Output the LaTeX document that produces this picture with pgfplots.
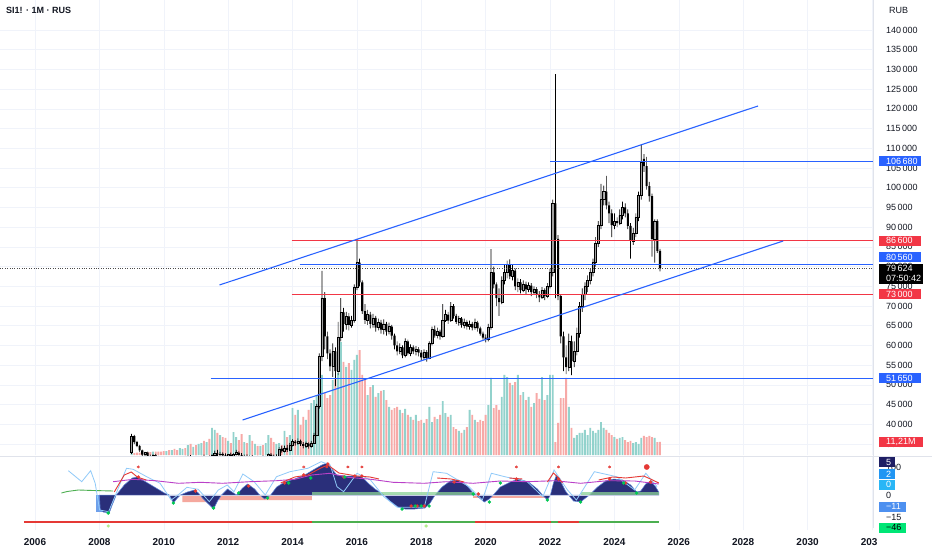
\documentclass[border=0pt]{standalone}
\usepackage{fontspec}
\setmainfont{Liberation Sans}
\usepackage{pgfplots}
\usepackage{pgfplotstable}
\pgfplotsset{compat=1.18}
\definecolor{tvblue}{RGB}{41,98,255}
\definecolor{tvred}{RGB}{242,54,69}
\definecolor{volup}{RGB}{146,210,204}
\definecolor{voldn}{RGB}{247,169,167}
\definecolor{candleup}{RGB}{160,160,160}
\definecolor{gridc}{RGB}{240,243,250}
\definecolor{sepc}{RGB}{224,227,235}
\definecolor{txt}{RGB}{19,23,34}
\definecolor{navyosc}{RGB}{42,47,122}
\definecolor{oscedge}{RGB}{90,130,215}
\definecolor{lightosc}{RGB}{144,202,249}
\definecolor{steelosc}{RGB}{110,160,235}
\definecolor{purp}{RGB}{186,64,200}
\definecolor{oscred}{RGB}{229,57,53}
\definecolor{oscgreen}{RGB}{76,175,80}
\definecolor{salmon}{RGB}{245,168,158}
\definecolor{bandgreen}{RGB}{140,210,150}
\definecolor{dotgreen}{RGB}{0,200,83}
\definecolor{lgreen}{RGB}{178,235,140}
\definecolor{zerol}{RGB}{200,205,230}
\definecolor{box5}{RGB}{30,30,100}
\definecolor{box2}{RGB}{33,150,243}
\definecolor{box0}{RGB}{41,182,246}
\definecolor{box11}{RGB}{77,144,240}
\definecolor{box46}{RGB}{0,230,118}

\pgfplotstableread{
yr mo o h l c v
2009 1 33000 37600 32500 37000 1.7
2009 2 37000 37300 35000 35500 1.7
2009 3 35500 35800 34200 34500 2
2009 4 34500 34800 33000 33400 2
2009 5 33400 33600 31800 32300 2
2009 6 32300 33000 31900 32800 2.5
2009 7 32800 33100 31500 31800 2.5
2009 8 31800 32300 31000 31600 2.5
2009 9 31600 32400 31200 32100 3
2009 10 32100 32500 31300 31500 3
2009 11 31500 32000 30800 31200 3
2009 12 31200 31800 30600 31000 3
2010 1 31000 31500 30500 30800 3.4
2010 2 30800 31400 30300 31200 3.4
2010 3 31200 31600 30700 30900 4.3
2010 4 30900 31500 30600 31300 4.3
2010 5 31300 31800 30800 31000 5.2
2010 6 31000 31400 30400 30700 4.3
2010 7 30700 31300 30300 31100 6
2010 8 31100 31700 30800 31500 5.2
2010 9 31500 32000 31100 31400 6
2010 10 31400 32100 31000 31900 8.6
2010 11 31900 32200 31200 31300 9.5
2010 12 31300 31800 30900 31600 6.9
2011 1 31600 32000 31000 31200 8.6
2011 2 31200 31700 30800 31500 9.5
2011 3 31500 32000 31100 31800 10.3
2011 4 31800 32300 31300 31400 12.1
2011 5 31400 31900 30900 31700 11.2
2011 6 31700 32100 31200 31500 13.8
2011 7 31500 32400 31300 32200 23.3
2011 8 32200 33300 31900 32600 21.6
2011 9 32600 33500 32000 32300 19
2011 10 32300 33000 31800 32500 17.2
2011 11 32500 32900 31900 32100 15.5
2011 12 32100 32600 31600 31900 14.7
2012 1 31900 32500 31500 32300 12.1
2012 2 32300 32800 31800 32000 10.3
2012 3 32000 32600 31700 32400 19.8
2012 4 32400 33500 32100 32800 15.5
2012 5 32800 33200 32000 32200 12.9
2012 6 32200 32700 31600 31800 18.1
2012 7 31800 32300 31300 32000 11.2
2012 8 32000 32400 31400 31600 10.3
2012 9 31600 32100 31000 31800 17.2
2012 10 31800 32200 31200 31400 12.1
2012 11 31400 31900 30900 31600 9.5
2012 12 31600 32000 31100 31300 7.8
2013 1 31300 31900 30900 31700 7.8
2013 2 31700 32100 31200 31500 8.6
2013 3 31500 32000 31000 31800 10.3
2013 4 31800 32600 31400 32300 17.2
2013 5 32300 32700 31800 32000 14.7
2013 6 32000 32300 31300 31500 11.2
2013 7 31500 32400 31200 32000 9.5
2013 8 32000 34200 31800 33800 10.3
2013 9 33800 34500 32800 33200 8.6
2013 10 33200 34600 32900 34000 20.7
2013 11 34000 34800 33000 33500 15.5
2013 12 33500 35300 33200 34800 17.2
2014 1 34800 36200 34400 35600 40.5
2014 2 35600 36000 34600 35200 34.5
2014 3 35200 36400 34800 35800 38.8
2014 4 35800 36100 34500 35000 25.9
2014 5 35000 35500 33900 34500 32.8
2014 6 34500 35600 34000 35100 30.2
2014 7 35100 35400 33800 34400 38.8
2014 8 34400 35800 34100 35300 44.8
2014 9 35300 37800 35100 37300 47.4
2014 10 37300 45200 37000 44700 51.7
2014 11 44700 58000 44000 57300 77.6
2014 12 57300 78900 56000 72000 69
2015 1 72000 73500 59000 62300 53.4
2015 2 62300 63500 56500 58000 49.1
2015 3 58000 59000 53500 54700 51.7
2015 4 54700 60500 52000 58500 64.7
2015 5 58500 59500 49700 53500 66.4
2015 6 53500 66000 52500 62000 70.7
2015 7 62000 72000 61000 68400 97.4
2015 8 68400 69500 63500 65500 80.2
2015 9 65500 68500 64000 67400 75.9
2015 10 67400 68200 63800 65200 79.3
2015 11 65200 67500 64500 66500 73.3
2015 12 66500 75500 65800 74800 81.9
2016 1 74800 87000 74000 81000 86.2
2016 2 81000 82000 75000 76000 90.5
2016 3 76000 76500 68000 68700 69
2016 4 68700 70500 65500 66500 64.7
2016 5 66500 69000 65200 67800 51.7
2016 6 67800 68500 64300 65500 58.6
2016 7 65500 68000 64500 67000 60.3
2016 8 67000 67500 63500 64500 50
2016 9 64500 66800 63800 65800 53.4
2016 10 65800 66500 63000 64000 55.2
2016 11 64000 66600 62800 65500 56
2016 12 65500 66000 62500 63500 47.4
2017 1 63500 65800 62800 64800 41.4
2017 2 64800 65200 61500 62500 38.8
2017 3 62500 63000 59000 60000 40.5
2017 4 60000 61000 57500 58500 41.4
2017 5 58500 60500 57800 59500 38.8
2017 6 59500 60000 56800 57500 36.2
2017 7 57500 61800 57000 61000 39.7
2017 8 61000 61500 57500 58000 34.5
2017 9 58000 60300 57300 59500 32.8
2017 10 59500 60000 57800 58500 30.2
2017 11 58500 59800 57500 59000 34.5
2017 12 59000 59600 57200 58200 29.3
2018 1 58200 58800 56000 57000 30.2
2018 2 57000 59000 56300 58300 27.6
2018 3 58300 58800 55900 56800 31
2018 4 56800 61000 56500 60500 41.4
2018 5 60500 64800 60000 64000 28.4
2018 6 64000 65000 62000 62500 32.8
2018 7 62500 64500 61800 63500 31
2018 8 63500 64000 61500 62300 34.5
2018 9 62300 70500 62000 66500 46.5
2018 10 66500 69000 66000 67800 36.2
2018 11 67800 68500 65500 66300 32.8
2018 12 66300 71000 66000 70000 34.5
2019 1 70000 70500 66800 67500 24.1
2019 2 67500 68000 65500 66000 22.4
2019 3 66000 67500 65000 66800 20.7
2019 4 66800 67200 64500 65200 19
2019 5 65200 66800 64300 66000 21.6
2019 6 66000 66500 64000 64800 24.1
2019 7 64800 66300 64000 65500 38.8
2019 8 65500 66000 63800 64500 34.5
2019 9 64500 66800 64000 65800 30.2
2019 10 65800 66200 63500 64300 28.4
2019 11 64300 64800 62500 63000 30.2
2019 12 63000 63500 61500 62000 29.3
2020 1 62000 62800 60800 61500 34.5
2020 2 61500 65500 61000 64500 43.1
2020 3 64500 84400 64000 78500 66.4
2020 4 78500 80000 74500 75500 40.5
2020 5 75500 76000 70000 72000 43.1
2020 6 72000 74500 67500 71000 38.8
2020 7 71000 77500 70500 76500 50
2020 8 76500 80500 75500 78500 69
2020 9 78500 81500 77000 80500 67.2
2020 10 80500 81800 76800 77500 62.1
2020 11 77500 80500 76500 79000 60.3
2020 12 79000 79500 74000 75000 62.9
2021 1 75000 77000 73500 76000 69
2021 2 76000 76800 73200 74000 51.7
2021 3 74000 76500 73500 75500 54.3
2021 4 75500 76200 73000 74200 47.4
2021 5 74200 76000 73500 75200 50
2021 6 75200 75800 72500 73500 41.4
2021 7 73500 75000 72800 74300 44.8
2021 8 74300 74800 72000 73000 53.4
2021 9 73000 73800 71000 72200 48.3
2021 10 72200 74800 71800 74000 67.2
2021 11 74000 74500 71500 72500 47.4
2021 12 72500 75800 72000 75000 51.7
2022 1 75000 79500 74500 78500 69
2022 2 78500 97000 77500 96000 69
2022 3 96000 128800 72000 87000 11.2
2022 4 87000 88000 71500 72500 27.6
2022 5 72500 73000 60500 62300 49.1
2022 6 62300 63500 53500 57000 49.1
2022 7 57000 60000 52700 54500 66.4
2022 8 54500 63000 53500 61000 41.4
2022 9 61000 62500 52500 56000 23.3
2022 10 56000 61000 54500 58500 14.7
2022 11 58500 64500 57500 63000 17.2
2022 12 63000 71000 62000 70000 19
2023 1 70000 74500 68500 73000 19
2023 2 73000 76000 71500 75000 21.6
2023 3 75000 77800 73500 76500 17.2
2023 4 76500 79500 75500 78500 23.3
2023 5 78500 82000 77500 81000 20.7
2023 6 81000 87500 80000 86000 19
2023 7 86000 91500 85000 90500 21.6
2023 8 90500 101000 89500 97000 28.4
2023 9 97000 100500 95500 99000 23.3
2023 10 99000 103000 94500 95500 21.6
2023 11 95500 96500 91000 93500 19
2023 12 93500 94500 87500 90500 17.2
2024 1 90500 93500 89500 91500 15.5
2024 2 91500 92500 90000 91000 13.8
2024 3 91000 94500 90500 93000 14.7
2024 4 93000 96500 92000 95000 15.5
2024 5 95000 96000 92500 93500 12.9
2024 6 93500 94500 89500 90300 11.2
2024 7 90300 91000 82000 86500 12.1
2024 8 86500 89800 85500 88500 10.3
2024 9 88500 93500 87500 92500 11.2
2024 10 92500 99000 91500 98000 9.5
2024 11 98000 111000 97000 106500 14.7
2024 12 107300 108500 104000 105500 16.4
2025 1 105500 107800 99500 100400 15.5
2025 2 100400 101500 96500 97900 16.4
2025 3 97900 98500 82500 87000 15.5
2025 4 87000 92000 81000 91500 14.7
2025 5 91500 92000 83500 84000 11.2
2025 6 84000 84500 78800 79624 11.21
}\candles

\newcommand{\lblfont}{\fontsize{9}{10}\selectfont}
\pgfplotsset{pane/.style={anchor=south west, width=873pt, scale only axis,
  xmin=2004.9127, xmax=2032.033}}

\begin{document}
\begin{tikzpicture}
\fill[white] (0pt,0pt) rectangle (932pt,550pt);

\begin{axis}[pane, at={(0pt,95pt)}, height=455pt, ymin=32214, ymax=147608,
  axis line style={draw=none}, major tick length=0pt,
  xtick={2006,2008,...,2032}, xticklabels={},
  ytick={35000,40000,...,140000}, yticklabel pos=right, scaled y ticks=false,
  yticklabel style={font=\lblfont, text=txt, anchor=west, inner sep=0pt, xshift=13pt},
  grid=major, major grid style={gridc, line width=0.5pt},
  /pgf/number format/.cd, fixed, precision=0, 1000 sep={\,}, assume math mode=true]
\addplot[draw=none] coordinates {(2010,50000)};
\end{axis}

\begin{axis}[pane, at={(0pt,95pt)}, height=455pt, ymin=0, ymax=392.2, hide axis]
\addplot[ybar, bar width=1.9pt, bar shift=0pt, fill=volup, draw=none]
  table[x expr={\thisrow{yr}+(\thisrow{mo}-1)/12}, y expr={\thisrow{c}>=\thisrow{o} ? \thisrow{v} : nan}] {\candles};
\addplot[ybar, bar width=1.9pt, bar shift=0pt, fill=voldn, draw=none]
  table[x expr={\thisrow{yr}+(\thisrow{mo}-1)/12}, y expr={\thisrow{c}<\thisrow{o} ? \thisrow{v} : nan}] {\candles};
\coordinate (VOL) at (axis cs:2032.033,11.21);
\end{axis}

\begin{axis}[pane, at={(0pt,95pt)}, height=455pt, ymin=32214, ymax=147608, hide axis,
  ybar stacked, bar width=0.7pt]
\addplot[draw=none, fill=none] table[x expr={\thisrow{yr}+(\thisrow{mo}-1)/12}, y=l] {\candles};
\addplot[draw=none, fill=black] table[x expr={\thisrow{yr}+(\thisrow{mo}-1)/12}, y expr={\thisrow{h}-\thisrow{l}}] {\candles};
\end{axis}

\begin{axis}[pane, at={(0pt,95pt)}, height=455pt, ymin=32214, ymax=147608, hide axis,
  ybar stacked, bar width=2.1pt]
\addplot[draw=none, fill=none] table[x expr={\thisrow{yr}+(\thisrow{mo}-1)/12}, y expr={min(\thisrow{o},\thisrow{c})}] {\candles};
\addplot[draw=none, fill=black] table[x expr={\thisrow{yr}+(\thisrow{mo}-1)/12}, y expr={\thisrow{c}<\thisrow{o} ? \thisrow{o}-\thisrow{c} : 0}] {\candles};
\addplot[draw=black, line width=0.4pt, fill=candleup] table[x expr={\thisrow{yr}+(\thisrow{mo}-1)/12}, y expr={\thisrow{c}>=\thisrow{o} ? \thisrow{c}-\thisrow{o} : 0}] {\candles};
\end{axis}

\begin{axis}[pane, at={(0pt,95pt)}, height=455pt, ymin=32214, ymax=147608, hide axis]
\addplot[black!70, line width=0.6pt, dash pattern=on 0.8pt off 1.6pt] coordinates {(2004.9127,79624) (2032.033,79624)};
\addplot[tvblue, line width=1.1pt] coordinates {(2022.012,106680) (2032.033,106680)};
\addplot[tvred, line width=1.1pt] coordinates {(2013.975,86600) (2032.033,86600)};
\addplot[tvblue, line width=1.1pt] coordinates {(2014.224,80560) (2032.033,80560)};
\addplot[tvred, line width=1.1pt] coordinates {(2013.975,73000) (2032.033,73000)};
\addplot[tvblue, line width=1.1pt] coordinates {(2011.452,51650) (2032.033,51650)};
\addplot[tvblue, line width=1.1pt] coordinates {(2011.732,75332) (2028.461,120726)};
\addplot[tvblue, line width=1.1pt] coordinates {(2012.449,41096) (2029.240,86490)};
\coordinate (P106680) at (axis cs:2032.033,106680);
\coordinate (P86600) at (axis cs:2032.033,86600);
\coordinate (P80560) at (axis cs:2032.033,80560);
\coordinate (P79624) at (axis cs:2032.033,79624);
\coordinate (P73000) at (axis cs:2032.033,73000);
\coordinate (P51650) at (axis cs:2032.033,51650);
\end{axis}

\begin{axis}[pane, at={(0pt,20pt)}, height=74pt, ymin=-35, ymax=39,
  axis line style={draw=none}, major tick length=0pt,
  xtick={2006,2008,...,2032},
  xticklabels={2006,2008,2010,2012,2014,2016,2018,2020,2022,2024,2026,2028,2030,203\phantom{2}},
  xticklabel style={font=\bfseries\fontsize{10}{11}\selectfont, text=txt, anchor=base, yshift=-15pt},
  ytick=\empty, xmajorgrids, major grid style={gridc, line width=0.5pt}]
\addplot[fill=salmon, draw=none] coordinates {(2010.580,0) (2010.580,-7) (2011.577,-7) (2011.60,-5) (2014.599,-5) (2014.599,0)} -- cycle;
\addplot[fill=salmon, draw=none] coordinates {(2019.614,0) (2019.614,-2.5) (2021.982,-2.5) (2021.982,0)} -- cycle;
\addplot[fill=steelosc, draw=none] coordinates {(2007.90,0) (2007.90,-17) (2008.119,-17) (2008.119,0)} -- cycle;
\addplot[fill=navyosc, draw=oscedge, line width=0.5pt] coordinates {
(2008.00,0) (2008.03,-15) (2008.119,-17) (2008.306,-18) (2008.399,-10) (2008.524,0) (2008.773,10) (2009.022,17) (2009.178,18) (2009.396,14) (2009.708,8) (2010.019,2) (2010.175,0) (2010.300,-8) (2010.424,-3) (2010.518,0) (2010.736,3) (2010.954,5) (2011.078,2) (2011.203,-3) (2011.421,-10) (2011.546,-14) (2011.670,-6) (2011.795,0) (2011.982,6) (2012.169,2) (2012.262,0) (2012.449,7) (2012.605,11) (2012.823,6) (2012.979,0) (2013.134,-4) (2013.321,0) (2013.508,8) (2013.757,13) (2014.069,16) (2014.380,20) (2014.692,26) (2014.910,30) (2015.066,32) (2015.222,26) (2015.377,20) (2015.627,19) (2015.938,19) (2016.156,18) (2016.343,12) (2016.561,6) (2016.842,0) (2017.029,-6) (2017.278,-12) (2017.496,-14) (2017.807,-14) (2018.119,-13) (2018.275,-8) (2018.430,0) (2018.648,8) (2018.898,14) (2019.147,15) (2019.396,10) (2019.614,2) (2019.770,-2) (2019.957,-7) (2020.113,-4) (2020.237,0) (2020.455,8) (2020.767,13) (2021.016,16) (2021.328,13) (2021.608,6) (2021.764,0) (2021.919,-5) (2022.013,0) (2022.106,12) (2022.200,20) (2022.324,14) (2022.480,4) (2022.574,0) (2022.729,-6) (2022.948,-7) (2023.103,-3) (2023.228,0) (2023.477,8) (2023.726,14) (2023.976,16) (2024.256,15) (2024.505,10) (2024.692,3) (2024.817,4) (2024.972,11) (2025.128,14) (2025.284,8) (2025.377,3) (2025.38,0)} -- cycle;
\addplot[fill=bandgreen, fill opacity=0.75, draw=none] coordinates {(2014.599,0) (2014.599,3.5) (2019.614,3.5) (2019.614,0)} -- cycle;
\addplot[fill=bandgreen, fill opacity=0.75, draw=none] coordinates {(2022.948,0) (2022.948,3.5) (2025.377,3.5) (2025.377,0)} -- cycle;
\addplot[zerol, line width=0.5pt] coordinates {(2008.5,0) (2025.38,0)};
\addplot[oscgreen, line width=0.9pt] coordinates {(2006.82,2) (2007.0,3.5) (2007.35,5) (2007.8,4.5) (2008.43,4)};
\addplot[lightosc, line width=0.8pt] coordinates {
(2007.035,24.3) (2007.452,13.3) (2007.729,24.3) (2007.870,11.7) (2008.007,-15) (2008.287,-16.7) (2008.564,5) (2008.842,26.7) (2009.050,25.7) (2009.468,18.3) (2009.885,11.7) (2010.234,-5) (2010.443,0) (2010.720,7.7) (2011.069,5.7) (2011.415,-6.7) (2011.695,5) (2011.972,10) (2012.181,3.3) (2012.458,21) (2012.807,13.3) (2013.153,0) (2013.502,18.3) (2013.920,23.3) (2014.474,26.7) (2014.891,33.3) (2015.172,30) (2015.381,8.3) (2015.589,3.3) (2016.004,21.7) (2016.421,15) (2016.839,-1.7) (2017.256,-12.3) (2018.091,-12.3) (2018.368,23.3) (2018.786,21.7) (2019.483,8.3) (2019.898,-5) (2020.178,21.7) (2020.596,18.3) (2021.290,13.3) (2021.776,-1.7) (2022.125,25) (2022.543,5) (2022.820,-5) (2023.377,23.3) (2024.072,18.3) (2024.627,5) (2024.976,21.7) (2025.324,8.3)};
\addplot[purp, line width=0.9pt] coordinates {
(2008.430,13.3) (2009.053,15.7) (2009.739,14.3) (2010.455,11.7) (2011.141,12.7) (2011.826,11.7) (2012.667,13.3) (2013.508,14.3) (2014.069,15.7) (2014.599,20) (2015.159,21.7) (2015.720,17.7) (2016.437,15.7) (2017.122,12.7) (2018.088,11.7) (2018.773,13.3) (2019.614,11.7) (2020.455,14) (2021.296,13.3) (2022.138,14.3) (2022.948,11.7) (2023.789,14.3) (2024.630,14) (2025.377,11)};
\addplot[oscred, line width=0.9pt] coordinates {(2008.462,3) (2008.773,20) (2008.991,23) (2009.178,18) (2009.458,15)};
\addplot[oscred, line width=0.9pt] coordinates {(2013.633,12) (2014.069,18) (2014.474,20) (2014.879,27) (2015.097,30) (2015.440,22) (2016.000,19) (2016.405,18) (2016.686,16)};
\addplot[oscred, line width=0.9pt] coordinates {(2018.493,17) (2018.929,16) (2019.334,13)};
\addplot[oscred, line width=0.9pt] coordinates {(2020.736,17) (2021.141,16)};
\addplot[oscred, line width=0.9pt] coordinates {(2021.919,13) (2022.106,22) (2022.262,17) (2022.387,12)};
\addplot[oscred, line width=0.9pt] coordinates {(2023.509,15) (2023.945,18) (2024.349,17) (2024.910,19) (2025.190,15) (2025.377,12)};
\addplot[only marks, mark=*, mark size=1.5pt, oscred] coordinates {
(2009.209,18) (2010.985,4) (2012.636,9) (2013.757,12) (2014.349,20) (2015.097,31) (2015.596,18) (2015.938,19) (2016.156,19) (2017.683,-11) (2017.870,-11) (2018.088,-11) (2019.022,13) (2019.770,1) (2020.954,16) (2022.262,16) (2023.851,16) (2024.349,12) (2025.128,13)};
\addplot[only marks, mark=*, mark size=1.5pt, dotgreen] coordinates {
(2008.275,-18) (2010.300,-8) (2011.546,-13) (2012.324,2) (2013.228,-3) (2013.882,12) (2014.567,17) (2015.627,18) (2017.402,-14) (2017.807,-11) (2017.994,-11) (2018.243,-11) (2019.614,1) (2020.113,-7) (2020.455,12) (2021.919,-5) (2022.948,-7) (2024.287,12) (2024.692,2)};
\addplot[only marks, mark=asterisk, mark size=1.5pt, oscred, line width=0.5pt] coordinates {
(2009.209,28) (2014.349,28) (2015.066,28) (2015.720,28) (2016.156,28) (2020.954,28) (2022.262,28) (2023.851,28)};
\addplot[only marks, mark=*, mark size=2.6pt, oscred] coordinates {(2025.004,28)};
\addplot[oscred, line width=1.2pt] coordinates {(2005.658,-27) (2014.599,-27)};
\addplot[oscgreen, line width=1.2pt] coordinates {(2014.599,-27) (2019.677,-27)};
\addplot[oscred, line width=1.2pt] coordinates {(2019.677,-27) (2022.044,-27)};
\addplot[oscgreen, line width=1.2pt] coordinates {(2022.044,-27) (2022.262,-27)};
\addplot[oscred, line width=1.2pt] coordinates {(2022.262,-27) (2022.885,-27)};
\addplot[oscgreen, line width=1.2pt] coordinates {(2022.885,-27) (2025.377,-27)};
\addplot[only marks, mark=*, mark size=1.4pt, lgreen] coordinates {(2008.275,-31) (2018.150,-31)};
\coordinate (I5) at (axis cs:2032.033,33);
\coordinate (I100) at (axis cs:2032.033,28);
\coordinate (I2) at (axis cs:2032.033,20.5);
\coordinate (I0a) at (axis cs:2032.033,10.5);
\coordinate (I0b) at (axis cs:2032.033,0);
\coordinate (I11) at (axis cs:2032.033,-11.5);
\coordinate (I15) at (axis cs:2032.033,-22);
\coordinate (I46) at (axis cs:2032.033,-32.5);
\end{axis}

\draw[sepc, line width=0.7pt] (0pt,94pt) -- (932pt,94pt);
\draw[sepc, line width=0.7pt] (873pt,22pt) -- (873pt,550pt);

\node[anchor=west, inner sep=0pt, font=\bfseries\lblfont, text=txt] at (6pt,540pt) {SI1! · 1M · RUS};
\node[anchor=west, inner sep=0pt, font=\lblfont, text=txt] at (889pt,539.3pt) {RUB};

\newcommand{\pbox}[5]{%
  \fill[#2] ([xshift=6pt,yshift=#4-5pt]#1) rectangle ([xshift=#5,yshift=#4+5pt]#1);
  \node[anchor=west, inner sep=0pt, text=white, font=\lblfont] at ([xshift=13pt,yshift=#4]#1) {#3};}
\pbox{P106680}{tvblue}{106\,680}{0pt}{48pt}
\pbox{P86600}{tvred}{86\,600}{0pt}{48pt}
\pbox{P80560}{tvblue}{80\,560}{7pt}{48pt}
\pbox{P73000}{tvred}{73\,000}{0pt}{48pt}
\pbox{P51650}{tvblue}{51\,650}{0pt}{48pt}
\pbox{VOL}{tvred}{11,21M}{0pt}{50pt}
\fill[black] ([xshift=6pt,yshift=4.5pt]P79624) rectangle ([xshift=50pt,yshift=-15.5pt]P79624);
\node[anchor=west, inner sep=0pt, text=white, font=\lblfont] at ([xshift=13pt,yshift=-0.5pt]P79624) {79\,624};
\node[anchor=west, inner sep=0pt, text=white, font=\lblfont] at ([xshift=13pt,yshift=-10pt]P79624) {07:50:42};

\node[anchor=west, inner sep=0pt, text=txt, font=\lblfont] at ([xshift=13pt]I100) {100};
\pbox{I5}{box5}{5}{0pt}{22pt}
\pbox{I2}{box2}{2}{0pt}{22pt}
\pbox{I0a}{box0}{0}{0pt}{22pt}
\node[anchor=west, inner sep=0pt, text=txt, font=\lblfont] at ([xshift=13pt]I0b) {0};
\pbox{I11}{box11}{−11}{0pt}{33pt}
\node[anchor=west, inner sep=0pt, text=txt, font=\lblfont] at ([xshift=13pt]I15) {−15};
\fill[box46] ([xshift=6pt,yshift=-5pt]I46) rectangle ([xshift=33pt,yshift=5pt]I46);
\node[anchor=west, inner sep=0pt, text=black, font=\lblfont] at ([xshift=13pt]I46) {−46};

\pgfresetboundingbox
\path[use as bounding box] (0pt,0pt) rectangle (932pt,550pt);
\end{tikzpicture}
\end{document}
